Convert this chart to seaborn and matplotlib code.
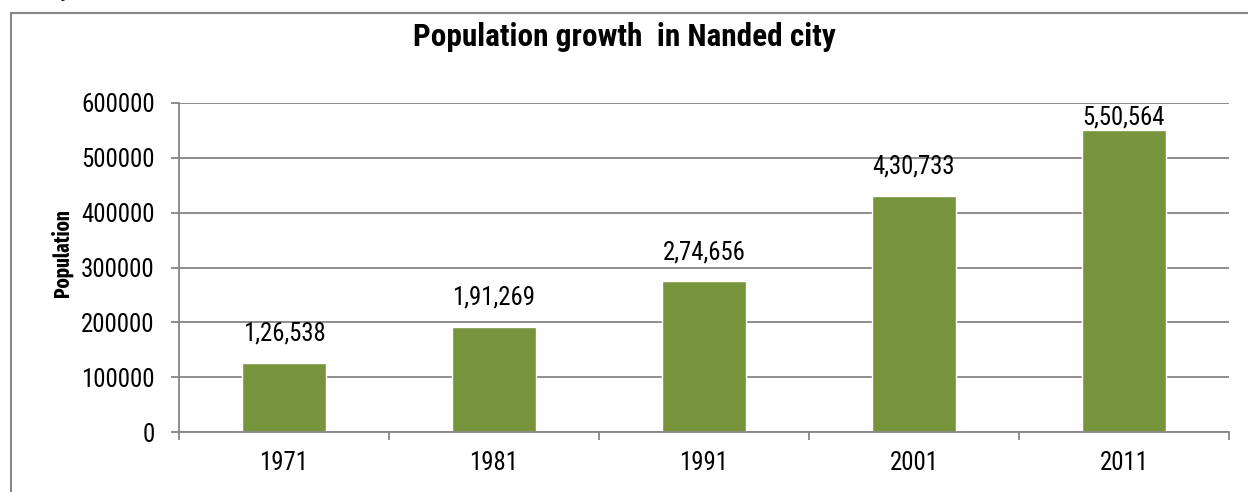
import matplotlib
matplotlib.use("Agg")
import matplotlib.pyplot as plt
import matplotlib.ticker as mticker
from matplotlib.lines import Line2D
from matplotlib import font_manager
import seaborn as sns
import pandas as pd

years = ["1971", "1981", "1991", "2001", "2011"]
population = [126538, 191269, 274656, 430733, 550564]
yticks = [0, 100000, 200000, 300000, 400000, 500000, 600000]
title = "Population growth  in Nanded city"
ylabel = "Population"

sns.set_theme(style="white")
names = {f.name for f in font_manager.fontManager.ttflist}
FAM = "Roboto Condensed" if "Roboto Condensed" in names else "Liberation Sans"
YFAM = "Fira Sans Extra Condensed" if "Fira Sans Extra Condensed" in names else FAM
plt.rcParams['font.family'] = [FAM, 'DejaVu Sans']


def indian(n):
    s = str(n)
    if len(s) <= 3:
        return s
    last3, rest = s[-3:], s[:-3]
    parts = []
    while len(rest) > 2:
        parts.insert(0, rest[-2:])
        rest = rest[:-2]
    if rest:
        parts.insert(0, rest)
    return ",".join(parts + [last3])


W, H = 1248, 492
fig = plt.figure(figsize=(W / 100, H / 100), dpi=100)
renderer = fig.canvas.get_renderer()


def fit_size(text, target_px, weight="normal", family=None, base=20):
    t = fig.text(0, 0, text, fontsize=base, fontweight=weight,
                 family=[family or FAM, "DejaVu Sans"])
    w = t.get_window_extent(renderer).width
    t.remove()
    return base * target_px / w


tick_fs = fit_size("600000", 74)
lab_fs = fit_size("1,26,538", 83)
title_fs = fit_size(title, 422, "bold")
ylab_fs = fit_size(ylabel, 88, "bold", YFAM)

ax = fig.add_axes([179 / W, 1 - 432 / H, (1229 - 179) / W, (432 - 103) / H])

df = pd.DataFrame({"year": years, "pop": population})
sns.barplot(data=df, x="year", y="pop", color="#77933C", saturation=1, width=0.4, ax=ax)

grey = "#868686"
ax.set_ylim(0, 600000)
ax.set_xlim(-0.5, len(years) - 0.5)
ax.set_yticks(yticks)
ax.set_yticklabels([str(v) for v in yticks])
ax.yaxis.grid(True, color=grey, linewidth=1.3)
ax.set_axisbelow(True)
for s in ["top", "right"]:
    ax.spines[s].set_visible(False)
for s in ["left", "bottom"]:
    ax.spines[s].set_color(grey)
    ax.spines[s].set_linewidth(1.3)

ax.xaxis.set_major_locator(mticker.FixedLocator([i - 0.5 for i in range(len(years) + 1)]))
ax.xaxis.set_major_formatter(mticker.NullFormatter())
ax.xaxis.set_minor_locator(mticker.FixedLocator(list(range(len(years)))))
ax.xaxis.set_minor_formatter(mticker.FixedFormatter(years))
ax.tick_params(axis="x", which="major", direction="out", length=6, width=1.3, color=grey, bottom=True)
ax.tick_params(axis="x", which="minor", length=0, labelsize=tick_fs, labelcolor="black", pad=14, bottom=True)
ax.tick_params(axis="y", direction="out", length=6, width=1.3, color=grey, labelsize=tick_fs,
               labelcolor="black", pad=11.5, left=True)

ax.set_xlabel("")
ax.set_ylabel(ylabel, fontsize=ylab_fs, fontweight="bold", color="black",
              family=[YFAM, "DejaVu Sans"])
ax.yaxis.set_label_coords((62 - 179) / (1229 - 179), (432 - 253) / (432 - 103))
ax.yaxis.label.set_va("center")

labels = []
for i, v in enumerate(population):
    labels.append(ax.annotate(indian(v), (i, v), xytext=(0, 12.5), textcoords="offset points",
                              ha="center", va="bottom", fontsize=lab_fs, color="black"))

# keep data labels inside the plot area (as the reference does for the tallest bar)
fig.canvas.draw()
ax_top = ax.get_window_extent(renderer).y1
for i, t in enumerate(labels):
    bb = t.get_window_extent(renderer)
    if bb.y1 > ax_top - 1:
        t.xy = (i, ax.get_ylim()[1])
        t.set_position((0, -1.5))
        t.set_va("top")

fig.text(624 / W, 1 - 46 / H, title, ha="center", va="baseline",
         fontsize=title_fs, fontweight="bold", color="black")

# outer chart frame
fig.add_artist(Line2D([11 / W, 11 / W], [0, 1 - 13 / H], transform=fig.transFigure,
                      color=grey, linewidth=1.5))
fig.add_artist(Line2D([11 / W, 1], [1 - 13 / H, 1 - 13 / H], transform=fig.transFigure,
                      color=grey, linewidth=1.5))

# fragment of the preceding text line above the chart
fig.text(40 / W, 1 + 4 / H, "city", ha="left", va="baseline", fontsize=15,
         family=["Liberation Serif", "DejaVu Serif"], color="black")

fig.savefig("out.png", dpi=100)
